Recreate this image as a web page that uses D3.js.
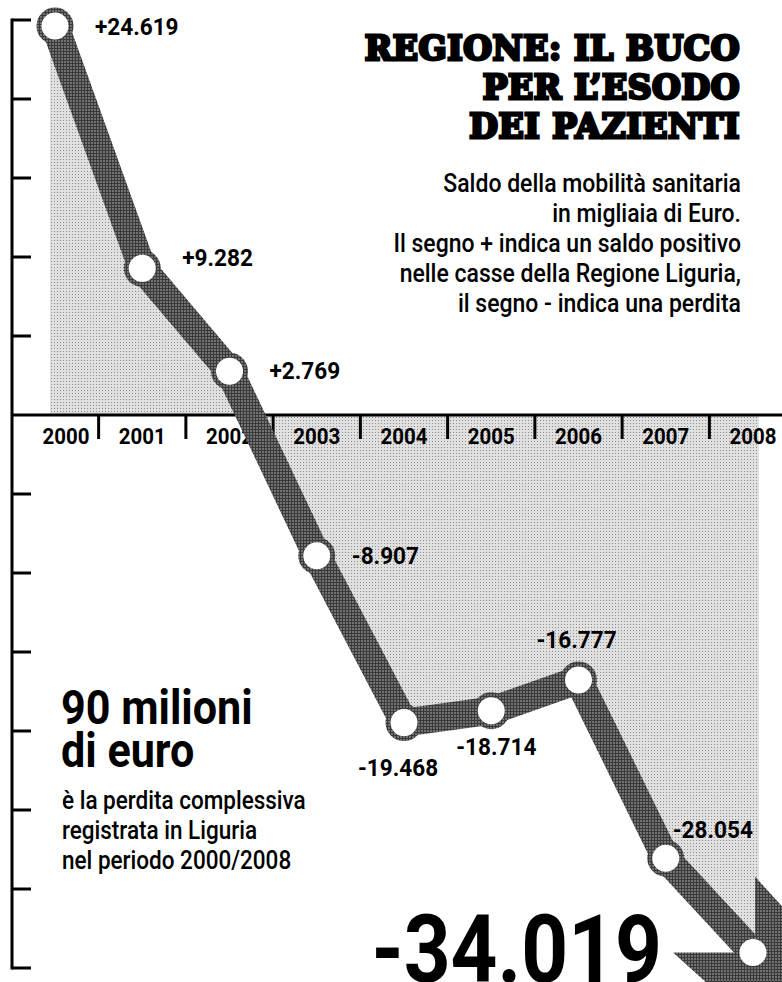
<!DOCTYPE html>
<html lang="it">
<head>
<meta charset="UTF-8">
<title>Regione: il buco per l'esodo dei pazienti</title>
<style>
    body { margin: 0; background: #fff; }
    svg { display: block; }
</style>
</head>
<body>
<script src="https://d3js.org/d3.v7.min.js"></script>
<script>
    // data: saldo della mobilita' sanitaria (migliaia di euro)
    var years = [2000, 2001, 2002, 2003, 2004, 2005, 2006, 2007, 2008];
    var saldo = [24.619, 9.282, 2.769, -8.907, -19.468, -18.714, -16.777, -28.054, -34.019];
    var valueLabels = ["+24.619", "+9.282", "+2.769", "-8.907", "-19.468", "-18.714", "-16.777", "-28.054", "-34.019"];
    var yTicks = [25, 20, 15, 10, 5, 0, -5, -10, -15, -20, -25, -30, -35];

    var titleLines = ["REGIONE: IL BUCO", "PER L\u2019ESODO", "DEI PAZIENTI"];
    var noteLines = ["Saldo della mobilit\u00e0 sanitaria", "in migliaia di Euro.",
        "Il segno + indica un saldo positivo", "nelle casse della Regione Liguria,",
        "il segno - indica una perdita"];
    var totalLines = ["90 milioni", "di euro"];
    var totalNote = ["\u00e8 la perdita complessiva", "registrata in Liguria", "nel periodo 2000/2008"];

    var width = 782,
        height = 982;
    var font = "Roboto, 'Open Sans', sans-serif";

    var x = d3.scalePoint().domain(years).range([55, 753]);
    var y = d3.scaleLinear().domain([25, -35]).range([20, 968]);
    var step = x.step();

    // where each value label sits relative to its point: [dx, dy, anchor]
    var labelPos = [[40, 9, "start"], [40, -2, "start"], [40, 8, "start"], [35, 8, "start"],
        [-6, 53, "middle"], [5, 44, "middle"], [-2, -32, "middle"], [47, -20, "middle"]];

    var svg = d3.select("body")
        .append("svg")
        .attr("width", width)
        .attr("height", height);

    // halftone patterns
    var defs = svg.append("defs");
    var light = defs.append("pattern").attr("id", "light")
        .attr("width", 3).attr("height", 3).attr("patternUnits", "userSpaceOnUse");
    light.append("rect").attr("width", 3).attr("height", 3).attr("fill", "#e0e0e0");
    light.append("rect").attr("width", 1).attr("height", 1).attr("fill", "#8c8c8c");
    var dark = defs.append("pattern").attr("id", "dark")
        .attr("width", 3).attr("height", 3).attr("patternUnits", "userSpaceOnUse");
    dark.append("rect").attr("width", 3).attr("height", 3).attr("fill", "#727272");
    dark.append("rect").attr("width", 3).attr("height", 1).attr("fill", "#3a3a3a");
    dark.append("rect").attr("width", 1).attr("height", 3).attr("fill", "#3a3a3a");

    var pts = years.map(function (yr, i) {
        return {year: yr, v: saldo[i], px: x(yr), py: y(saldo[i]), label: valueLabels[i]};
    });

    // area between the line and zero, a bit wider than the first and last point
    var areaPts = [{px: pts[0].px - 5, v: saldo[0]}]
        .concat(pts)
        .concat([{px: pts[pts.length - 1].px + 6, v: saldo[saldo.length - 1]}]);
    var area = d3.area()
        .x(function (d) { return d.px; })
        .y0(y(0))
        .y1(function (d) { return y(d.v); });
    svg.append("path")
        .datum(areaPts)
        .attr("d", area)
        .attr("fill", "url(#light)");

    // y axis
    var yAxis = svg.append("g");
    yAxis.append("line")
        .attr("x1", 12).attr("x2", 12)
        .attr("y1", y(yTicks[0]) - 1.5).attr("y2", y(yTicks[yTicks.length - 1]) + 1.5)
        .attr("stroke", "#000").attr("stroke-width", 3);
    yAxis.selectAll("line.tick")
        .data(yTicks.filter(function (t) { return t !== 0; }))
        .enter().append("line")
        .attr("class", "tick")
        .attr("x1", 12).attr("x2", 31)
        .attr("y1", function (d) { return y(d); })
        .attr("y2", function (d) { return y(d); })
        .attr("stroke", "#000").attr("stroke-width", 3);

    // squeeze text horizontally, like a condensed face
    function condense(sel, k) {
        sel.each(function () {
            var w = this.getComputedTextLength();
            d3.select(this)
                .attr("textLength", w * k)
                .attr("lengthAdjust", "spacingAndGlyphs");
        });
    }

    // x axis along zero
    var xAxis = svg.append("g");
    xAxis.append("line")
        .attr("x1", 12).attr("x2", width)
        .attr("y1", y(0)).attr("y2", y(0))
        .attr("stroke", "#000").attr("stroke-width", 3);
    xAxis.selectAll("line.tick")
        .data(years.slice(0, -1))
        .enter().append("line")
        .attr("class", "tick")
        .attr("x1", function (d) { return x(d) + step / 2; })
        .attr("x2", function (d) { return x(d) + step / 2; })
        .attr("y1", y(0)).attr("y2", y(0) + 24)
        .attr("stroke", "#000").attr("stroke-width", 3);
    xAxis.selectAll("text")
        .data(years)
        .enter().append("text")
        .attr("x", function (d, i) { return x(d) + (i === 0 ? 11 : 0); })
        .attr("y", y(0) + 29)
        .attr("text-anchor", "middle")
        .attr("font-family", font)
        .attr("font-weight", 700)
        .attr("font-size", 22)
        .text(function (d) { return d; })
        .call(condense, 0.93);

    // arrow head after the last point
    var last = pts[pts.length - 1];
    var head = [[-80, 0], [750, 750], [2, -76], [2, 0]].map(function (o) {
        return [last.px + o[0], last.py + o[1]];
    });
    svg.append("path")
        .attr("d", "M" + head.join("L") + "Z")
        .attr("fill", "url(#dark)");

    // the thick line
    var line = d3.line()
        .x(function (d) { return d.px; })
        .y(function (d) { return d.py; });
    svg.append("path")
        .datum(pts)
        .attr("d", line)
        .attr("fill", "none")
        .attr("stroke", "url(#dark)")
        .attr("stroke-width", 28)
        .attr("stroke-linejoin", "round");

    svg.selectAll("circle")
        .data(pts)
        .enter().append("circle")
        .attr("cx", function (d) { return d.px; })
        .attr("cy", function (d) { return d.py; })
        .attr("r", 16)
        .attr("fill", "#fff")
        .attr("stroke", "url(#dark)")
        .attr("stroke-width", 5);

    // value labels
    svg.selectAll("text.val")
        .data(pts.slice(0, -1))
        .enter().append("text")
        .attr("class", "val")
        .attr("x", function (d, i) { return d.px + labelPos[i][0]; })
        .attr("y", function (d, i) { return d.py + labelPos[i][1]; })
        .attr("text-anchor", function (d, i) { return labelPos[i][2]; })
        .attr("font-family", font)
        .attr("font-weight", 700)
        .attr("font-size", 24)
        .text(function (d) { return d.label; })
        .call(condense, 0.94);

    svg.append("text")
        .attr("x", last.px - 91)
        .attr("y", last.py + 29)
        .attr("text-anchor", "end")
        .attr("font-family", font)
        .attr("font-weight", 700)
        .attr("font-size", 94)
        .text(last.label)
        .call(condense, 0.87);

    // title
    svg.append("g").selectAll("text")
        .data(titleLines)
        .enter().append("text")
        .attr("x", 740)
        .attr("y", function (d, i) { return 60 + i * 39; })
        .attr("text-anchor", "end")
        .attr("font-family", "'DejaVu Serif', serif")
        .attr("font-weight", 700)
        .attr("font-size", 33)
        .attr("letter-spacing", 0.6)
        .attr("stroke", "#000")
        .attr("stroke-width", 3)
        .attr("stroke-linejoin", "miter")
        .text(function (d) { return d; });

    svg.append("g").selectAll("text")
        .data(noteLines)
        .enter().append("text")
        .attr("x", 741)
        .attr("y", function (d, i) { return 192 + i * 30; })
        .attr("text-anchor", "end")
        .attr("font-family", font)
        .attr("font-weight", 500)
        .attr("font-size", 25)
        .text(function (d) { return d; })
        .call(condense, 0.92);

    // total box bottom left
    svg.append("g").selectAll("text")
        .data(totalLines)
        .enter().append("text")
        .attr("x", 61)
        .attr("y", function (d, i) { return 724 + i * 43; })
        .attr("font-family", font)
        .attr("font-weight", 700)
        .attr("font-size", 49)
        .text(function (d) { return d; })
        .call(condense, 0.88);

    svg.append("g").selectAll("text")
        .data(totalNote)
        .enter().append("text")
        .attr("x", 62)
        .attr("y", function (d, i) { return 809 + i * 30; })
        .attr("font-family", font)
        .attr("font-weight", 500)
        .attr("font-size", 25)
        .text(function (d) { return d; })
        .call(condense, 0.9);
</script>
</body>
</html>
